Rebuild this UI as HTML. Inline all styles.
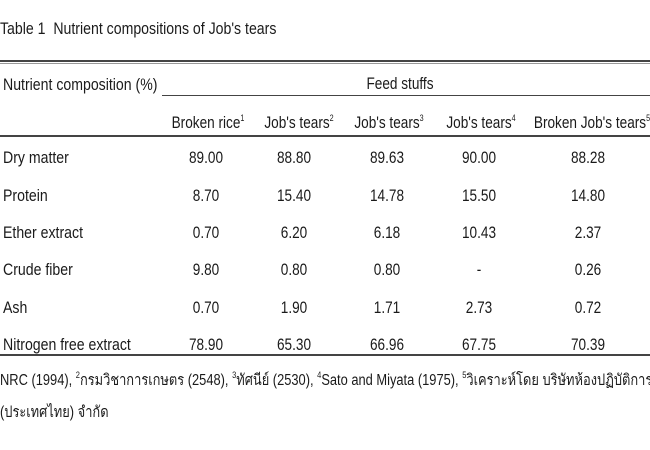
<!DOCTYPE html>
<html><head><meta charset="utf-8"><style>
body{margin:0;width:650px;height:450px;background:#fff;overflow:hidden;position:relative;font-family:"Liberation Sans","DejaVu Sans",sans-serif;color:#1a1a1a}
.t{position:absolute;white-space:nowrap;font-size:17px;line-height:17px;transform-origin:0 0;transform:scaleX(.83)}
.c{position:absolute;white-space:nowrap;font-size:17px;line-height:17px;transform:translateX(-50%) scaleX(.8)}
.r{position:absolute;background:#444}
sup{font-size:9px;vertical-align:7px;line-height:0}
</style></head><body>
<div class="t" style="left:0;top:20px;font-size:17px">Table 1&nbsp; Nutrient compositions of Job's tears</div>
<div class="r" style="left:0;top:60px;width:650px;height:2px"></div>
<div class="r" style="left:0;top:63px;width:650px;height:1px;background:#999"></div>
<div class="t" style="left:3px;top:76px">Nutrient composition (%)</div>
<div class="c" style="left:400px;top:75px">Feed stuffs</div>
<div class="r" style="left:162px;top:95px;width:488px;height:1px"></div>
<div class="c" style="left:208px;top:114px">Broken rice<sup>1</sup></div>
<div class="c" style="left:299px;top:114px">Job's tears<sup>2</sup></div>
<div class="c" style="left:389px;top:114px">Job's tears<sup>3</sup></div>
<div class="c" style="left:481px;top:114px">Job's tears<sup>4</sup></div>
<div class="c" style="left:592px;top:114px">Broken Job's tears<sup>5</sup></div>
<div class="r" style="left:0;top:135px;width:650px;height:2px"></div>

<div class="t" style="left:3px;top:149px">Dry matter</div>
<div class="c" style="left:206px;top:149px">89.00</div><div class="c" style="left:294px;top:149px">88.80</div><div class="c" style="left:387px;top:149px">89.63</div><div class="c" style="left:479px;top:149px">90.00</div><div class="c" style="left:588px;top:149px">88.28</div>

<div class="t" style="left:3px;top:187px">Protein</div>
<div class="c" style="left:206px;top:187px">8.70</div><div class="c" style="left:294px;top:187px">15.40</div><div class="c" style="left:387px;top:187px">14.78</div><div class="c" style="left:479px;top:187px">15.50</div><div class="c" style="left:588px;top:187px">14.80</div>

<div class="t" style="left:3px;top:224px">Ether extract</div>
<div class="c" style="left:206px;top:224px">0.70</div><div class="c" style="left:294px;top:224px">6.20</div><div class="c" style="left:387px;top:224px">6.18</div><div class="c" style="left:479px;top:224px">10.43</div><div class="c" style="left:588px;top:224px">2.37</div>

<div class="t" style="left:3px;top:261px">Crude fiber</div>
<div class="c" style="left:206px;top:261px">9.80</div><div class="c" style="left:294px;top:261px">0.80</div><div class="c" style="left:387px;top:261px">0.80</div><div class="c" style="left:479px;top:261px">-</div><div class="c" style="left:588px;top:261px">0.26</div>

<div class="t" style="left:3px;top:299px">Ash</div>
<div class="c" style="left:206px;top:299px">0.70</div><div class="c" style="left:294px;top:299px">1.90</div><div class="c" style="left:387px;top:299px">1.71</div><div class="c" style="left:479px;top:299px">2.73</div><div class="c" style="left:588px;top:299px">0.72</div>

<div class="t" style="left:3px;top:336px">Nitrogen free extract</div>
<div class="c" style="left:206px;top:336px">78.90</div><div class="c" style="left:294px;top:336px">65.30</div><div class="c" style="left:387px;top:336px">66.96</div><div class="c" style="left:479px;top:336px">67.75</div><div class="c" style="left:588px;top:336px">70.39</div>

<div class="r" style="left:0;top:354px;width:650px;height:2px"></div>
<div class="t" style="left:0;top:372px;font-size:15.5px">NRC (1994), <sup>2</sup>กรมวิชาการเกษตร (2548), <sup>3</sup>ทัศนีย์ (2530), <sup>4</sup>Sato and Miyata (1975), <sup>5</sup>วิเคราะห์โดย บริษัทห้องปฏิบัติการกลาง</div>
<div class="t" style="left:0;top:404px;font-size:15.5px">(ประเทศไทย) จำกัด</div>
</body></html>
